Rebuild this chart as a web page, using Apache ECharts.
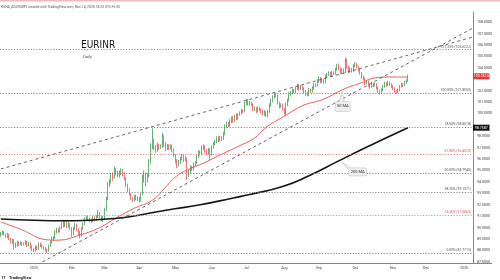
<!DOCTYPE html>
<html><head><meta charset="utf-8">
<script src="https://cdn.jsdelivr.net/npm/echarts@6/dist/echarts.min.js"></script>
<style>html,body{margin:0;padding:0;background:#fff}#c{width:500px;height:280px}</style>
</head><body><div id="c"></div>
<script>
// ---- data ----
const startDate = [2024, 11, 4];   // 4 Dec 2024, first trading day shown
const numCategories = 287;         // weekdays through early Jan 2026
const monthNames = ['Jan','Feb','Mar','Apr','May','Jun','Jul','Aug','Sep','Oct','Nov','Dec'];
// [open, close, low, high]
const ohlc = [
[89.30,89.50,89.20,89.65],[89.50,89.60,89.35,89.75],[89.60,89.40,89.30,89.70],[89.40,89.25,89.10,89.50],[89.25,89.35,89.10,89.55],
[89.35,89.00,88.90,89.45],[89.00,88.75,88.60,89.10],[88.75,88.90,88.55,89.05],[88.90,88.35,88.05,89.00],[88.35,88.50,88.20,88.70],
[88.50,88.70,88.35,88.85],[88.70,88.55,88.40,88.80],[88.55,88.65,88.45,88.80],[88.65,88.50,88.40,88.75],[88.50,88.60,88.45,88.70],
[88.60,88.75,88.50,88.90],[88.75,88.45,88.30,88.85],[88.45,88.60,88.35,88.75],[88.60,88.30,88.15,88.70],[88.30,88.10,87.95,88.45],
[88.10,88.00,87.85,88.20],[88.00,88.25,87.90,88.40],[88.25,88.15,88.00,88.45],[88.15,88.55,88.05,88.70],[88.55,88.45,88.30,88.70],
[88.45,88.30,88.15,88.55],[88.30,88.20,88.05,88.40],[88.20,88.00,87.90,88.30],[88.00,87.95,87.77,88.15],[87.95,88.40,87.90,88.50],
[88.40,88.70,88.30,88.85],[88.70,89.05,88.60,89.20],[89.05,89.10,88.85,89.25],[89.10,89.60,89.00,89.75],[89.60,89.85,89.50,90.00],
[89.85,89.70,89.55,89.95],[89.70,89.95,89.60,90.10],[89.95,90.35,89.85,90.50],[90.35,90.20,90.00,90.70],[90.20,90.45,90.05,90.60],
[90.45,90.10,89.95,90.55],[90.10,90.30,90.00,90.50],[90.30,89.95,89.80,90.40],[89.95,89.45,89.20,90.05],[89.45,89.90,89.35,90.05],
[89.90,90.25,89.80,90.40],[90.25,89.85,89.70,90.35],[89.85,89.55,89.35,89.95],[89.55,89.30,89.05,89.70],[89.30,89.90,89.20,90.05],
[89.90,90.30,89.80,90.45],[90.30,90.75,90.20,90.90],[90.75,90.90,90.60,91.05],[90.90,90.80,90.65,91.00],[90.80,90.55,90.45,90.90],
[90.55,90.60,90.40,90.75],[90.60,90.85,90.50,91.00],[90.85,90.70,90.55,91.00],[90.70,90.95,90.60,91.10],[90.95,91.25,90.85,91.55],
[91.25,90.95,90.80,91.35],[90.95,90.70,90.55,91.05],[90.70,90.85,90.50,91.00],[90.85,91.60,90.75,91.75],[91.60,92.55,91.45,92.70],
[92.55,93.80,92.40,94.00],[93.80,94.00,93.55,94.25],[94.00,94.55,93.85,94.80],[94.55,94.40,94.10,94.85],[94.40,95.10,94.30,95.35],
[95.10,94.85,94.60,95.25],[94.85,94.60,94.45,95.00],[94.60,94.75,94.40,95.00],[94.75,95.00,94.60,95.20],[95.00,94.70,94.50,95.15],
[94.70,94.30,94.15,94.85],[94.30,93.70,93.55,94.40],[93.70,93.30,93.10,93.85],[93.30,92.95,92.80,93.45],[92.95,92.55,92.40,93.05],
[92.55,92.45,92.25,92.70],[92.45,92.70,92.30,92.85],[92.70,92.60,92.40,92.90],[92.60,92.50,92.30,92.75],[92.50,92.40,92.20,92.70],
[92.40,92.95,92.30,93.15],[92.95,94.30,92.85,94.65],[94.30,94.65,93.95,95.00],[94.65,94.10,93.60,94.85],[94.10,94.60,93.95,94.80],
[94.60,95.80,94.40,96.00],[95.80,97.20,95.60,97.40],[97.20,97.50,96.90,98.70],[97.50,97.05,96.80,97.80],[97.05,96.80,96.55,97.25],
[96.80,97.20,96.65,97.45],[97.20,97.00,96.80,97.35],[97.00,97.15,96.90,97.30],[97.15,97.90,97.00,98.30],[97.90,97.25,97.05,98.10],
[97.25,96.90,96.70,97.50],[96.90,97.15,96.80,97.35],[97.15,97.00,96.80,97.30],[97.00,97.10,96.85,97.35],[97.10,96.80,96.60,97.25],
[96.80,96.35,96.20,96.95],[96.35,95.85,95.65,96.45],[95.85,95.55,95.20,96.00],[95.55,95.75,95.40,95.95],[95.75,96.05,95.60,96.20],
[96.05,96.30,95.90,96.45],[96.30,95.90,95.75,96.40],[95.90,96.10,95.80,96.25],[96.10,94.60,94.20,96.15],[94.60,94.85,94.45,95.05],
[94.85,95.30,94.70,95.45],[95.30,95.10,94.95,95.40],[95.10,95.55,95.00,95.70],[95.55,95.70,95.40,95.85],[95.70,96.20,95.60,96.35],
[96.20,96.60,96.10,96.80],[96.60,96.45,96.30,96.75],[96.45,96.95,96.35,97.20],[96.95,97.10,96.80,97.30],[97.10,96.70,96.55,97.20],
[96.70,96.50,96.35,96.85],[96.50,96.85,96.40,97.00],[96.85,96.40,95.90,96.95],[96.40,97.05,96.30,97.20],[97.05,97.35,96.90,97.50],
[97.35,97.55,97.20,97.70],[97.55,97.85,97.40,98.00],[97.85,97.70,97.50,98.00],[97.70,97.85,97.55,98.05],[97.85,97.80,97.60,98.00],
[97.80,98.25,97.70,98.40],[98.25,98.85,98.10,99.05],[98.85,99.10,98.70,99.30],[99.10,99.00,98.80,99.25],[99.00,99.30,98.85,99.50],
[99.30,99.60,99.15,99.75],[99.60,99.35,99.20,99.80],[99.35,99.75,99.25,99.90],[99.75,99.55,99.40,100.00],[99.55,99.90,99.45,100.05],
[99.90,100.05,99.80,100.20],[100.05,100.25,99.90,100.40],[100.25,100.20,100.05,100.35],[100.20,100.95,100.10,101.05],[100.95,101.10,100.75,101.30],
[101.10,100.85,100.70,101.25],[100.85,100.95,100.70,101.10],[100.95,100.80,100.65,101.05],[100.80,100.30,100.20,100.90],[100.30,100.45,100.20,100.65],
[100.45,100.20,100.05,100.55],[100.20,100.50,100.10,100.65],[100.50,100.35,100.20,100.60],[100.35,100.15,100.00,100.45],[100.15,99.95,99.85,100.35],
[99.95,100.10,99.80,100.30],[100.10,99.80,99.70,100.20],[99.80,100.15,99.70,100.30],[100.15,100.75,100.05,100.90],[100.75,101.15,100.60,101.30],
[101.15,101.45,101.00,101.60],[101.45,101.70,101.30,101.85],[101.70,101.55,101.40,101.80],[101.55,100.95,100.80,101.65],[100.95,100.60,100.45,101.05],
[100.60,100.75,100.50,100.90],[100.75,100.40,100.25,100.85],[100.40,99.95,99.85,100.50],[99.95,100.80,99.90,100.95],[100.80,101.15,100.65,101.30],
[101.15,101.70,101.05,101.85],[101.70,101.85,101.55,102.00],[101.85,102.05,101.70,102.20],[102.05,101.90,101.75,102.15],[101.90,102.20,101.80,102.35],
[102.20,102.45,102.05,102.60],[102.45,102.15,102.00,102.55],[102.15,102.35,102.05,102.50],[102.35,102.20,102.05,102.45],[102.20,101.95,101.80,102.30],
[101.95,101.75,101.55,102.05],[101.75,101.65,101.50,101.90],[101.65,102.10,101.55,102.25],[102.10,101.95,101.80,102.20],[101.95,102.25,101.85,102.40],
[102.25,102.55,102.10,102.70],[102.55,102.45,102.30,102.65],[102.45,102.85,102.35,103.00],[102.85,103.10,102.70,103.25],[103.10,102.80,102.65,103.20],
[102.80,102.95,102.70,103.10],[102.95,102.75,102.60,103.05],[102.75,103.25,102.65,103.40],[103.25,103.40,103.10,103.55],[103.40,103.55,103.30,103.70],
[103.55,103.35,103.20,103.65],[103.35,103.60,103.25,103.75],[103.60,103.50,103.35,103.70],[103.50,103.85,103.40,104.00],[103.85,104.20,103.75,104.35],
[104.20,103.95,103.80,104.40],[103.95,103.60,103.45,104.05],[103.60,103.80,103.50,103.95],[103.80,103.65,103.50,103.95],[103.65,104.70,103.55,104.90],
[104.70,104.10,103.95,104.80],[104.10,103.70,103.55,104.20],[103.70,103.90,103.60,104.05],[103.90,103.75,103.60,104.00],[103.75,104.20,103.65,104.30],
[104.20,104.35,104.05,104.50],[104.35,104.10,103.95,104.45],[104.10,103.85,103.70,104.20],[103.85,103.55,103.40,103.95],[103.55,103.20,103.05,103.65],
[103.20,103.05,102.90,103.35],[103.05,102.65,102.50,103.15],[102.65,102.80,102.55,102.95],[102.80,102.50,102.35,102.90],[102.50,102.35,102.20,102.60],
[102.35,102.60,102.25,102.75],[102.60,102.45,102.30,102.70],[102.45,102.55,102.35,102.70],[102.55,102.25,102.10,102.65],[102.25,101.95,101.80,102.35],
[101.95,101.80,101.65,102.05],[101.80,102.05,101.70,102.20],[102.05,102.35,101.95,102.50],[102.35,102.65,102.25,102.80],[102.65,102.50,102.35,102.75],
[102.50,102.70,102.40,102.85],[102.70,102.55,102.40,102.80],[102.55,102.40,102.25,102.65],[102.40,102.20,102.05,102.50],[102.20,101.95,101.80,102.30],
[101.95,101.90,101.75,102.05],[101.90,102.05,101.80,102.20],[102.05,102.40,101.95,102.50],[102.40,102.55,102.30,102.70],[102.55,102.45,102.30,102.65],
[102.45,102.75,102.40,102.85],[102.75,102.85,102.60,103.00],[102.85,103.2614,102.80,103.40]
];
// moving averages: [trading-day index, value]
const ma50 = [[0,90.50],[13,89.80],[27,88.95],[35,88.90],[48,89.35],[60,90.00],[70,90.85],[81,91.70],[92,92.40],[100,93.55],[106,94.45],
  [113,95.05],[123,95.65],[135,96.50],[143,97.05],[154,97.85],[161,98.80],[170,99.60],[184,100.75],[195,101.20],[209,102.20],
  [218,102.65],[226,103.10],[236,103.20],[247,103.20]];
const ma200 = [[0,90.76],[20,90.65],[36,90.60],[54,90.65],[72,90.85],[80,91.00],[101,91.55],[121,92.00],[141,92.60],[151,92.90],
  [171,93.60],[187,94.55],[205,95.85],[219,96.85],[232,97.75],[247,98.7587]];
const trendUpper = [[0,95.14],[286,106.69]];
const trendLower = [[22,86.74],[286,107.46]];
const fibLevels = [
  {pct:'127.20%', value:105.6222, red:false},
  {pct:'100.00%', value:101.8050, red:false},
  {pct:'78.60%',  value:98.8018,  red:false},
  {pct:'61.80%',  value:96.4520,  red:true},
  {pct:'50.00%',  value:94.7940,  red:false},
  {pct:'38.20%',  value:93.1371,  red:false},
  {pct:'23.60%',  value:91.0863,  red:true},
  {pct:'0.00%',   value:87.7713,  red:false}
];
const yTickValues = [87,88,89,90,91,92,93,94,95,96,97,98,100,101,102,104,105,106,107,108];
const headerText = 'KSHA_ADVISORY created with TradingView.com, Nov 14, 2025 18:23 UTC+5:30';

// ---- categories (weekdays) ----
const dates = [];
let d = new Date(Date.UTC(startDate[0], startDate[1], startDate[2]));
while (dates.length < numCategories) {
  const wd = d.getUTCDay();
  if (wd !== 0 && wd !== 6) dates.push(d.toISOString().slice(0, 10));
  d = new Date(d.getTime() + 86400000);
}
const isMonthStart = dates.map((s, i) => i > 0 && s.slice(5, 7) !== dates[i - 1].slice(5, 7));

const UP = '#26913a', DOWN = '#e23b3b';
const FONT = 'Roboto, "Liberation Sans", sans-serif';
const chart = echarts.init(document.getElementById('c'), null, {renderer: 'canvas'});

chart.setOption({
  animation: false,
  backgroundColor: '#fff',
  grid: {left: 0, right: 27, top: 12, bottom: 17},
  xAxis: {
    type: 'category', data: dates, boundaryGap: true,
    axisLine: {lineStyle: {color: '#888', width: 1}},
    axisTick: {show: false}, splitLine: {show: false},
    axisLabel: {
      interval: (i) => isMonthStart[i],
      formatter: (v) => { const m = +v.slice(5, 7) - 1; return m === 0 ? v.slice(0, 4) : monthNames[m]; },
      fontSize: 3.6, color: '#444', margin: 3, fontFamily: FONT
    }
  },
  yAxis: {
    type: 'value', position: 'right', min: 86.9, max: 108.9, scale: true,
    axisLine: {show: true, lineStyle: {color: '#888', width: 1}},
    axisTick: {show: false}, splitLine: {show: false},
    axisLabel: {customValues: yTickValues, formatter: (v) => v.toFixed(4), fontSize: 3.6, color: '#444', margin: 4, fontFamily: FONT}
  },
  series: [
    {
      type: 'candlestick', data: ohlc, barWidth: 1.1, z: 3,
      itemStyle: {color: UP, color0: DOWN, borderColor: UP, borderColor0: DOWN, borderWidth: 0.7},
      markLine: {
        silent: true, symbol: 'none', animation: false,
        data: fibLevels.map(f => ({
          yAxis: f.value,
          lineStyle: {color: f.red ? '#e88a8a' : '#8a8a8a', type: [1.2, 1.6], width: 1},
          label: {show: true, position: 'insideEndTop', distance: [2, 1.2],
                  formatter: `${f.pct} (${f.value.toFixed(4)})`, fontSize: 3.4,
                  color: f.red ? '#d85a5a' : '#555', fontFamily: FONT}
        }))
      }
    },
    {type: 'line', data: ma50, smooth: 0.4, symbol: 'none', lineStyle: {color: '#e2504a', width: 0.9}, z: 4},
    {type: 'line', data: ma200, smooth: 0.5, symbol: 'none', lineStyle: {color: '#151515', width: 1.6}, z: 4},
    {type: 'line', data: trendUpper, symbol: 'none', lineStyle: {color: '#555', width: 0.9, type: [3, 3]}, z: 5},
    {type: 'line', data: trendLower, symbol: 'none', lineStyle: {color: '#555', width: 0.9, type: [3, 3]}, z: 5}
  ]
});

// ---- overlays positioned through the chart's own coordinate system ----
const px = (i, v) => chart.convertToPixel({xAxisIndex: 0, yAxisIndex: 0}, [i, v]);
const lastClose = ohlc[ohlc.length - 1][1];
const lastMA200 = ma200[ma200.length - 1][1];
const yClose = px(0, lastClose)[1];
const yMA = px(0, lastMA200)[1];
const a50 = px(ma50[20][0], ma50[20][1]);
const a200 = px(ma200[12][0], ma200[12][1]);

function callout(ax, ay, bx, by, w, h, text, tip) {
  return [
    {type: 'polygon', shape: {points: [[ax, ay], tip[0], tip[1]]}, style: {fill: '#efefef', stroke: '#b5b5b5', lineWidth: 0.5}, z: 20},
    {type: 'rect', shape: {x: bx, y: by, width: w, height: h, r: 1.5}, style: {fill: '#efefef', stroke: '#b5b5b5', lineWidth: 0.5}, z: 20},
    {type: 'polygon', shape: {points: [[ax + (tip[0][0]-ax)*0.9, ay + (tip[0][1]-ay)*0.9], [tip[0][0], tip[0][1]+0.6], [tip[1][0], tip[1][1]+0.6]]}, style: {fill: '#efefef'}, z: 21},
    {type: 'text', x: bx + w / 2, y: by + h / 2, style: {text, fontSize: 4, fill: '#333', align: 'center', verticalAlign: 'middle', fontFamily: FONT}, z: 22}
  ];
}

chart.setOption({
  graphic: [
    {type: 'rect', shape: {x: 0, y: 0, width: 500, height: 1.5}, style: {fill: '#f3b9b9'}, z: 30},
    {type: 'text', x: 1, y: 7.5, style: {text: headerText, fontSize: 3.4, fill: '#555', verticalAlign: 'middle', fontFamily: FONT}, z: 30},
    {type: 'text', x: 81, y: 45, style: {text: 'EURINR', fontSize: 10, fill: '#111', verticalAlign: 'middle', fontFamily: '"Liberation Sans Narrow", "DejaVu Sans Condensed", sans-serif'}, z: 30},
    {type: 'text', x: 83, y: 57, style: {text: 'Daily', fontSize: 4.2, fill: '#555', verticalAlign: 'middle', fontFamily: FONT}, z: 30},
    {type: 'line', shape: {x1: 473, y1: 263.5, x2: 492, y2: 263.5}, style: {stroke: '#888', lineWidth: 1}, z: 30},
    {type: 'rect', shape: {x: 473, y: yClose - 3, width: 16.5, height: 6}, style: {fill: '#e53935'}, z: 30},
    {type: 'text', x: 481.2, y: yClose, style: {text: lastClose.toFixed(4), fontSize: 3.6, fill: '#fff', align: 'center', verticalAlign: 'middle', fontFamily: FONT}, z: 31},
    {type: 'rect', shape: {x: 473, y: yMA - 3, width: 16.5, height: 6}, style: {fill: '#111'}, z: 30},
    {type: 'text', x: 481.2, y: yMA, style: {text: lastMA200.toFixed(4), fontSize: 3.6, fill: '#fff', align: 'center', verticalAlign: 'middle', fontFamily: FONT}, z: 31},
    ...callout(a50[0] - 3, a50[1] + 3, a50[0] - 10, a50[1] + 13, 15, 10, '50 MA', [[a50[0] - 6, a50[1] + 13], [a50[0] - 1, a50[1] + 13]]),
    ...callout(a200[0] + 3, a200[1] + 1, a200[0] + 10, a200[1] + 7, 18, 8, '200 MA', [[a200[0] + 10, a200[1] + 9], [a200[0] + 12, a200[1] + 7]]),
    {type: 'text', x: 1, y: 277.5, style: {text: '17', fontSize: 4, fontWeight: 'bold', fill: '#131722', verticalAlign: 'middle', fontFamily: FONT}, z: 30},
    {type: 'text', x: 9, y: 277.5, style: {text: 'TradingView', fontSize: 4, fontWeight: 'bold', fill: '#131722', verticalAlign: 'middle', fontFamily: FONT}, z: 30}
  ]
});
</script></body></html>
